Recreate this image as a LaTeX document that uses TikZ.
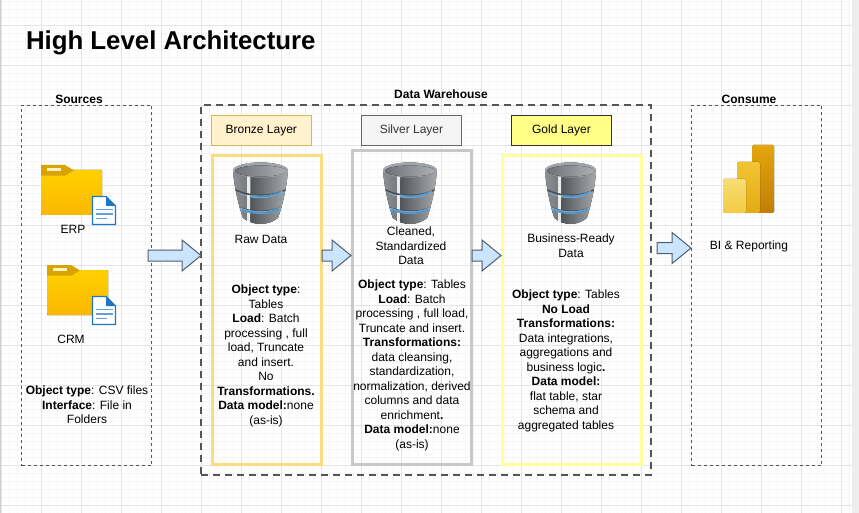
\documentclass[tikz,border=0pt]{standalone}
\usepackage{fontspec}
\setmainfont{Liberation Sans}
\usetikzlibrary{calc}
\definecolor{gridminor}{HTML}{F5F5F5}
\definecolor{gridmajor}{HTML}{E4E4E4}
\definecolor{dashgray}{HTML}{555555}
\definecolor{arrowfill}{HTML}{CCE5FF}
\definecolor{arrowline}{HTML}{4F5F70}
\definecolor{bronzeline}{HTML}{FBDC7E}
\definecolor{bronzehd}{HTML}{FFF2CC}
\definecolor{bronzehdline}{HTML}{D6B656}
\definecolor{silverline}{HTML}{C8C8C8}
\definecolor{goldline}{HTML}{FFFF9E}
\definecolor{goldhd}{HTML}{FFFF88}
\definecolor{dbdarka}{HTML}{8C8F93}
\definecolor{dbdarkb}{HTML}{787B80}
\definecolor{dbbodya}{HTML}{515458}
\definecolor{dbbodyb}{HTML}{ABAEB1}
\definecolor{dbband}{HTML}{4A4D51}
\definecolor{dbblue}{HTML}{4A96D2}
\definecolor{dbglow}{HTML}{7FA6C6}
\definecolor{dbrim}{HTML}{A2A5A9}
\definecolor{dbina}{HTML}{6E7175}
\definecolor{dbinb}{HTML}{ADB0B3}
\definecolor{foldera}{HTML}{FFD000}
\definecolor{folderb}{HTML}{FBB800}
\definecolor{foldertab}{HTML}{D9A300}
\definecolor{slot}{HTML}{FFF3C4}
\definecolor{docblue}{HTML}{1F76C8}
\definecolor{pbia}{HTML}{E4A60C}
\definecolor{pbib}{HTML}{C27E0A}
\definecolor{pbic}{HTML}{F2C433}
\definecolor{pbid}{HTML}{E3AB14}
\definecolor{pbie}{HTML}{F8DD72}
\definecolor{pbif}{HTML}{F2CB42}
\tikzset{
  txt/.style={inner sep=0pt,outer sep=0pt,align=center,anchor=north,font=\fontsize{12}{14.5}\selectfont,text=black},
  headlabel/.style={inner sep=0pt,outer sep=0pt,font=\fontsize{12}{14}\selectfont\bfseries},
  outerbox/.style={draw=dashgray,line width=1pt,dash pattern=on 3pt off 3pt,inner sep=0pt,outer sep=0pt},
  dwbox/.style={draw=dashgray,line width=2pt,dash pattern=on 7pt off 5pt,inner sep=0pt,outer sep=0pt},
  layerhead/.style={line width=1pt,inner sep=0pt,outer sep=0pt,minimum width=100pt,minimum height=30pt,text height=9pt,text depth=2.5pt,font=\fontsize{12}{14}\selectfont},
  panel/.style={line width=3pt,inner sep=0pt,outer sep=0pt},
  blockarrow/.style={draw=arrowline,fill=arrowfill,line width=1pt,line join=miter}
}
\newcommand\blockarrow[4]{\draw[blockarrow] (#1,#2-5.5) -- (#4,#2-5.5) -- (#4,#2-15.5) -- (#3,#2) -- (#4,#2+15.5) -- (#4,#2+5.5) -- (#1,#2+5.5) -- cycle;}
\newcommand\dbicon[3]{%
\begin{scope}[shift={(#1,#2)},xscale=#3]
  \begin{scope}
    \clip (0,8) .. controls (1,25) and (6,45) .. (10,56) .. controls (20,64) and (35,64) .. (45,56) .. controls (49,45) and (54,25) .. (55,8) .. controls (50,-2) and (5,-2) .. (0,8) -- cycle;
    \fill[left color=dbdarka,right color=dbdarkb] (0,-2) rectangle (14,64);
    \fill[left color=dbbodya,right color=dbbodyb] (17.5,-2) rectangle (56,64);
    \fill[white!92!black] (14,-2) -- (17.5,-2) -- (17,64) -- (15,64) -- cycle;
    \draw[line width=1.5pt,color=dbband] (0,26.5) .. controls (15,35.5) and (40,35.5) .. (55,26.5);
    \draw[line width=1.5pt,color=dbband] (0,42.5) .. controls (15,51.5) and (40,51.5) .. (55,42.5);
    \draw[line width=2.6pt,color=dbglow] (17.5,34) .. controls (28,36) and (38,35) .. (50,30);
    \draw[line width=2.6pt,color=dbglow] (5,46) .. controls (20,52.5) and (38,51.5) .. (49,46);
    \draw[line width=1.6pt,color=dbblue] (19,33.8) .. controls (28,35.6) and (38,34.6) .. (47,30.6);
    \draw[line width=1.6pt,color=dbblue] (9,48) .. controls (22,52.2) and (38,51.2) .. (46,47.4);
    \draw[line width=1pt,color=dbglow] (6,31) .. controls (9,33) and (12,33.6) .. (14,34);
  \end{scope}
  \fill[dbrim] (27.5,8) ellipse [x radius=27.5,y radius=7.5];
  \fill[left color=dbina,right color=dbinb] (27.5,9) ellipse [x radius=25.5,y radius=5.5];
\end{scope}}
\newcommand\foldericon[2]{%
\begin{scope}[shift={(#1,#2)}]
  \fill[top color=foldera,bottom color=folderb,rounded corners=0.8pt] (0,5) rectangle (61,50);
  \fill[foldertab] (0,0) -- (24,0) -- (33,5.5) -- (24,10.7) -- (0,10.7) -- cycle;
  \fill[slot] (5.5,3) rectangle (20,6);
\end{scope}}
\newcommand\docicon[2]{%
\begin{scope}[shift={(#1,#2)}]
  \draw[draw=docblue,fill=white,line width=1.1pt] (0.5,0.5) -- (14,0.5) -- (23.5,10) -- (23.5,28.5) -- (0.5,28.5) -- cycle;
  \fill[docblue] (14,0.5) -- (23.5,10) -- (14,10) -- cycle;
  \draw[docblue!70!white,line width=1.2pt] (3.5,13.5) -- (20.5,13.5) (3.5,18) -- (20.5,18) (3.5,22.5) -- (14.5,22.5);
\end{scope}}
\begin{document}
\begin{tikzpicture}[x=1pt,y=-1pt]
\useasboundingbox (0,0) rectangle (859,513);
\fill[white] (0,0) rectangle (859,513);
\foreach \i in {0,...,106}{\draw[gridminor,line width=0.7pt] ({1+8*\i},0) -- ({1+8*\i},513);}
\foreach \i in {0,...,64}{\draw[gridminor,line width=0.7pt] (0,{1+8*\i}) -- (852,{1+8*\i});}
\foreach \i in {0,...,21}{\draw[gridmajor,line width=0.8pt] ({1+40*\i},0) -- ({1+40*\i},513);}
\foreach \i in {0,...,12}{\draw[gridmajor,line width=0.8pt] (0,{25+40*\i}) -- (852,{25+40*\i});}
\fill[black!7!white] (852,0) rectangle (859,513);
\fill[black!18!white] (0,0) rectangle (1,513);

\node[inner sep=0pt,outer sep=0pt,anchor=base west,font=\fontsize{25.8}{30}\selectfont\bfseries] (title) at (26,49.5) {High Level Architecture};

\node[outerbox,minimum width=130pt,minimum height=360pt] (sources) at (86.5,285.5) {};
\node[dwbox,minimum width=450pt,minimum height=370pt] (dw) at (426,290) {};
\node[outerbox,minimum width=130pt,minimum height=360pt] (consume) at (756.5,285.5) {};
\node[headlabel] (sourceslabel) at (79,99.5) {Sources};
\node[headlabel] (dwlabel) at (441,94.5) {Data Warehouse};
\node[headlabel] (consumelabel) at (749,99.5) {Consume};

\node[layerhead,draw=bronzehdline,fill=bronzehd] (bronzehead) at (261.3,130.5) {Bronze Layer};
\node[layerhead,draw=black!60!white,fill=black!4!white,text=black!80!white] (silverhead) at (411.5,130.5) {Silver Layer};
\node[layerhead,draw=black!80!white,fill=goldhd] (goldhead) at (561.5,130.5) {Gold Layer};

\node[panel,draw=bronzeline,minimum width=109.5pt,minimum height=308.5pt] (bronze) at (266.75,310.25) {};
\node[panel,draw=silverline,minimum width=119.5pt,minimum height=313.5pt] (silver) at (411.75,307.75) {};
\node[panel,draw=goldline,minimum width=139.5pt,minimum height=308.5pt] (gold) at (571.75,310.25) {};

\foldericon{41}{165}
\docicon{92}{196}
\foldericon{47}{265}
\docicon{92}{296}
\dbicon{233}{162}{1}
\dbicon{383}{162}{0.98}
\dbicon{545}{162}{0.93}
\begin{scope}[rounded corners=1.5pt]
  \fill[top color=pbia,bottom color=pbib] (752,145) rectangle (774,213);
  \fill[top color=pbic,bottom color=pbid] (737,162) rectangle (760,213);
  \fill[top color=pbie,bottom color=pbif] (723,179) rectangle (746,213);
\end{scope}

\blockarrow{148}{255.5}{201}{182}
\blockarrow{322}{255.5}{351}{332}
\blockarrow{472}{255.5}{501}{482}
\blockarrow{657}{248}{691}{672}

\node[txt] (erp) at (73,225) {ERP};
\node[txt] (crm) at (71,335) {CRM};
\node[txt] (srcinfo) at (87,386) {\textbf{Object type}: CSV files\\\textbf{Interface}: File in\\Folders};
\node[txt] (rawdata) at (261,235) {Raw Data};
\node[txt] (bronzeinfo) at (266,285) {\textbf{Object type}:\\Tables\\\textbf{Load}: Batch\\processing , full\\load, Truncate\\and insert.\\No\\\textbf{Transformations.}\\\textbf{Data model:}none\\(as-is)};
\node[txt] (cleaned) at (411,227) {Cleaned,\\Standardized\\Data};
\node[txt] (silverinfo) at (412,280) {\textbf{Object type}: Tables\\\textbf{Load}: Batch\\processing , full load,\\Truncate and insert.\\\textbf{Transformations:}\\data cleansing,\\standardization,\\normalization, derived\\columns and data\\enrichment\textbf{.}\\\textbf{Data model:}none\\(as-is)};
\node[txt] (bizready) at (571,234) {Business-Ready\\Data};
\node[txt] (goldinfo) at (566,290) {\textbf{Object type}: Tables\\\textbf{No Load}\\\textbf{Transformations:}\\Data integrations,\\aggregations and\\business logic\textbf{.}\\\textbf{Data model:}\\flat table, star\\schema and\\aggregated tables};
\node[txt] (bi) at (749,241) {BI \& Reporting};
\end{tikzpicture}
\end{document}
